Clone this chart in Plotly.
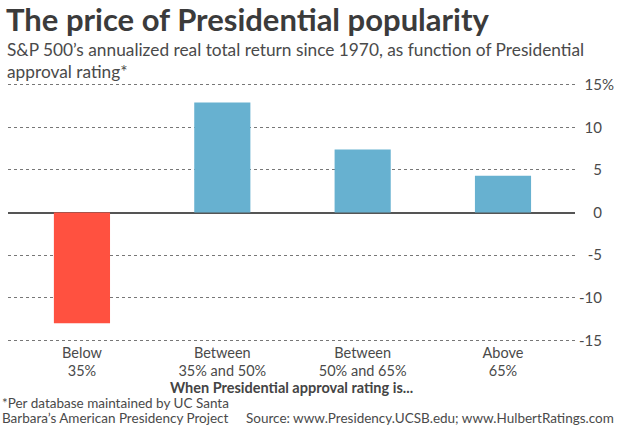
import plotly.graph_objects as go

categories = ["Below<br>35%", "Between<br>35% and 50%", "Between<br>50% and 65%", "Above<br>65%"]
returns = [-13.0, 12.9, 7.4, 4.3]
bar_colors = ["#ff5140", "#67b1d0", "#67b1d0", "#67b1d0"]
ytick_vals = [-15, -10, -5, 0, 5, 10, 15]
ytick_text = ["-15", "-10", "-5", "0", "5", "10", "15%"]

HID = "<span style='color:rgba(0,0,0,0)'>%</span>"
ytick_text_aligned = [t if t.endswith("%") else t + HID for t in ytick_text]

W, H = 620, 427
ml, mr = 8, 6
plot_w = W - ml - mr
x_end = (575 - ml) / plot_w

fig = go.Figure()
fig.add_trace(go.Bar(
    x=categories, y=returns, marker=dict(color=bar_colors, line=dict(width=0)),
    width=0.4, showlegend=False,
))

note_font = dict(size=13.5, color="#4a4a4a", family="Lato")

fig.update_layout(
    width=W, height=H,
    margin=dict(l=ml, r=mr, t=83, b=85),
    paper_bgcolor="white", plot_bgcolor="white",
    font=dict(family="Lato", color="#4a4a4a", size=14),
    xaxis=dict(
        domain=[0, x_end], range=[-0.527, 3.513],
        showgrid=False, showline=False, ticks="",
        tickfont=dict(size=14.5, color="#4a4a4a"),
        title=dict(text="<b>When Presidential approval rating is...</b>",
                   font=dict(size=14.5, color="#444444"), standoff=2),
    ),
    yaxis=dict(
        range=[-15.2, 15.2], side="left", anchor="free", position=1,
        tickvals=ytick_vals, ticktext=ytick_text_aligned,
        tickfont=dict(size=15, color="#4a4a4a"),
        showgrid=True, gridcolor="#777777", griddash="dot", gridwidth=1,
        zeroline=True, zerolinecolor="#555555", zerolinewidth=1.5,
        showline=False, ticks="",
    ),
    annotations=[
        dict(text="<b>The price of Presidential popularity</b>", x=0, y=1, xref="paper", yref="paper",
             xanchor="left", yanchor="top", showarrow=False,
             font=dict(size=31, color="#3b3b3b", family="Lato"), xshift=-4, yshift=85),
        dict(text="S&P 500’s annualized real total return since 1970, as function of Presidential<br>approval rating*",
             x=0, y=1, xref="paper", yref="paper", xanchor="left", yanchor="top", align="left",
             showarrow=False, font=dict(size=17.3, color="#4a4a4a", family="Lato"), xshift=-3, yshift=46),
        dict(text="*Per database maintained by UC Santa",
             x=0, y=0, xref="paper", yref="paper", xanchor="left", yanchor="middle", align="left",
             showarrow=False, font=note_font, xshift=-8, yshift=-61),
        dict(text="Barbara’s American Presidency Project",
             x=0, y=0, xref="paper", yref="paper", xanchor="left", yanchor="middle", align="left",
             showarrow=False, font=note_font, xshift=-8, yshift=-76),
        dict(text="Source: www.Presidency.UCSB.edu; www.HulbertRatings.com",
             x=1, y=0, xref="paper", yref="paper", xanchor="right", yanchor="middle", align="right",
             showarrow=False, font=note_font, xshift=2, yshift=-76),
    ],
)

fig.write_html("out.html")
